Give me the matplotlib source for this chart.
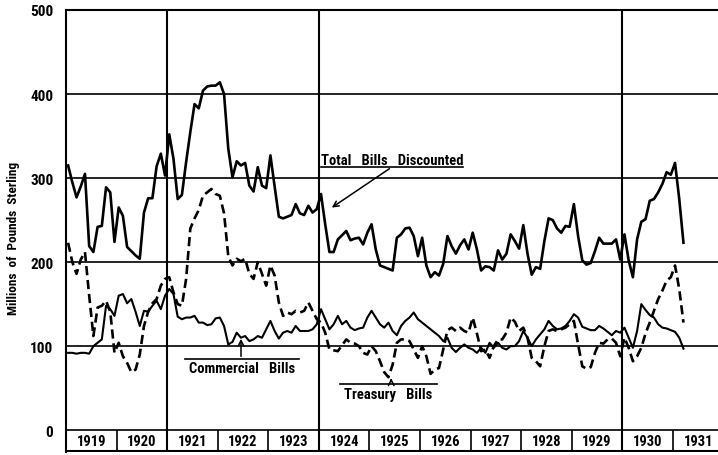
import matplotlib
matplotlib.use('Agg')
import matplotlib.pyplot as plt
import numpy as np

# Monthly figures, Jan 1919 - Mar 1931, millions of pounds sterling
total_bills = [
    315, 295, 277, 290, 305, 219, 212, 242, 243, 289, 283, 224,  # 1919
    265, 255, 218, 213, 208, 204, 259, 276, 276, 314, 329, 303,  # 1920
    352, 323, 275, 280, 319, 355, 388, 383, 404, 409, 410, 410,  # 1921
    414, 400, 335, 301, 320, 315, 318, 291, 284, 313, 291, 288,  # 1922
    327, 290, 254, 252, 254, 256, 269, 258, 256, 267, 259, 263,  # 1923
    281, 245, 212, 212, 227, 232, 237, 226, 228, 229, 221, 235,  # 1924
    245, 215, 196, 194, 192, 190, 229, 233, 240, 241, 231, 207,  # 1925
    229, 196, 182, 188, 184, 198, 231, 219, 210, 220, 227, 215,  # 1926
    235, 215, 190, 195, 194, 190, 214, 203, 210, 233, 225, 216,  # 1927
    244, 210, 185, 194, 192, 225, 252, 250, 240, 235, 243, 242,  # 1928
    269, 231, 202, 197, 199, 213, 229, 222, 222, 222, 227, 203,  # 1929
    233, 202, 182, 227, 248, 251, 273, 275, 283, 293, 307, 304,  # 1930
    318, 275, 223,                                               # 1931
]

treasury_bills = [
    223, 200, 186, 203, 212, 160, 112, 146, 148, 154, 141, 92,
    104, 88, 80, 69, 72, 90, 124, 141, 151, 156, 172, 180,
    182, 164, 150, 148, 180, 240, 252, 262, 279, 283, 287, 281,
    279, 258, 207, 196, 204, 201, 204, 186, 180, 200, 186, 172,
    196, 184, 152, 136, 140, 138, 142, 140, 142, 152, 142, 132,
    128, 116, 96, 95, 94, 101, 108, 104, 103, 100, 92, 90,
    100, 94, 82, 69, 63, 78, 104, 108, 108, 106, 96, 86,
    100, 88, 67, 72, 74, 96, 119, 122, 118, 122, 118, 116,
    134, 115, 94, 96, 86, 100, 108, 108, 116, 134, 129, 118,
    122, 110, 86, 82, 76, 100, 118, 120, 118, 120, 122, 126,
    130, 102, 76, 73, 75, 92, 104, 103, 108, 109, 104, 88,
    110, 98, 82, 88, 98, 115, 128, 142, 156, 166, 178, 182,
    196, 168, 128,
]

commercial_bills = [
    92, 92, 91, 92, 92, 91, 100, 104, 108, 148, 144, 136,
    160, 162, 151, 156, 141, 124, 142, 141, 148, 154, 144, 160,
    168, 162, 135, 132, 134, 134, 136, 128, 128, 125, 126, 133,
    134, 124, 102, 105, 116, 110, 112, 106, 108, 112, 110, 120,
    130, 118, 109, 116, 118, 116, 124, 118, 118, 118, 120, 126,
    144, 132, 120, 126, 136, 126, 130, 122, 119, 121, 122, 134,
    142, 134, 126, 122, 128, 118, 113, 124, 130, 134, 140, 132,
    128, 124, 120, 116, 112, 106, 110, 98, 93, 98, 102, 98,
    96, 92, 98, 92, 104, 98, 104, 98, 96, 100, 100, 106,
    118, 110, 100, 108, 114, 120, 130, 124, 120, 121, 124, 130,
    138, 134, 123, 121, 119, 119, 124, 121, 117, 113, 118, 116,
    122, 110, 98, 118, 150, 143, 137, 134, 126, 122, 121, 119,
    117, 110, 97,
]

years = list(range(1919, 1932))
y_ticks = [0, 100, 200, 300, 400, 500]
major_years = [1921, 1924, 1930]

FONT = ['Roboto Condensed', 'Liberation Sans Narrow', 'Roboto', 'DejaVu Sans']

# month mid-points as fractional years
months = 1919 + (np.arange(len(total_bills)) + 0.5) / 12

fig = plt.figure(figsize=(7.18, 4.56), dpi=100)
ax = fig.add_axes([66 / 718, 3 / 456, 657.5 / 718, 442 / 456])
ax.set_xlim(1919, 1932)
ax.set_ylim(-26, 500)

# grid
for v in y_ticks[1:-1]:
    ax.axhline(v, color='black', lw=1.2, zorder=1)
ax.axhline(0, color='black', lw=1.2, zorder=1)
for yr in major_years:
    ax.axvline(yr, color='black', lw=1.5, zorder=1)
ax.vlines(years[1:], -26, 0, color='black', lw=1.2)

for side in ['right', 'bottom']:
    ax.spines[side].set_visible(False)
ax.spines['left'].set_linewidth(1.5)
ax.spines['top'].set_linewidth(1.5)
ax.axhline(-25, color='black', lw=1.5)

# year boxes
for yr in years:
    ax.text(yr + 0.5, -12.5, str(yr), ha='center', va='center',
            fontsize=10.5, fontweight='bold', family=FONT)

ax.set_xticks([])
ax.set_yticks(y_ticks)
ax.set_yticklabels([str(v) for v in y_ticks], fontsize=11, fontweight='bold', family=FONT)
ax.tick_params(axis='y', length=0, pad=9)

fig.text(14 / 718, 1 - 238 / 456, 'Millions  of  Pounds  Sterling', rotation=90,
         ha='center', va='center', fontsize=9.5, fontweight='bold', family=FONT)

# series
ax.plot(months, total_bills, color='black', lw=1.9, zorder=3)
ax.plot(months, treasury_bills, color='black', lw=1.9, ls=(0, (3.5, 1.8)), zorder=3)
ax.plot(months, commercial_bills, color='black', lw=1.5, zorder=3)

# labels
ax.text(1925.45, 322, 'Total   Bills   Discounted', ha='center', va='center',
        fontsize=10.5, fontweight='bold', family=FONT)
ax.plot([1924.05, 1926.84], [313, 313], color='black', lw=1.2)
ax.annotate('', xy=(1924.21, 263), xytext=(1925.44, 313),
            arrowprops=dict(arrowstyle='->', color='black', lw=1.1))

ax.text(1922.48, 74, 'Commercial   Bills', ha='center', va='center',
        fontsize=10.5, fontweight='bold', family=FONT)
ax.plot([1921.36, 1923.61], [84.5, 84.5], color='black', lw=1.2)
ax.annotate('', xy=(1922.46, 112), xytext=(1922.46, 84.5),
            arrowprops=dict(arrowstyle='->', color='black', lw=1.1))

ax.text(1925.37, 43, 'Treasury   Bills', ha='center', va='center',
        fontsize=10.5, fontweight='bold', family=FONT)
ax.plot([1924.41, 1926.33], [55, 55], color='black', lw=1.2)
ax.annotate('', xy=(1925.43, 65), xytext=(1925.43, 55),
            arrowprops=dict(arrowstyle='->', color='black', lw=1.1))

fig.savefig('out.png', dpi=100)
